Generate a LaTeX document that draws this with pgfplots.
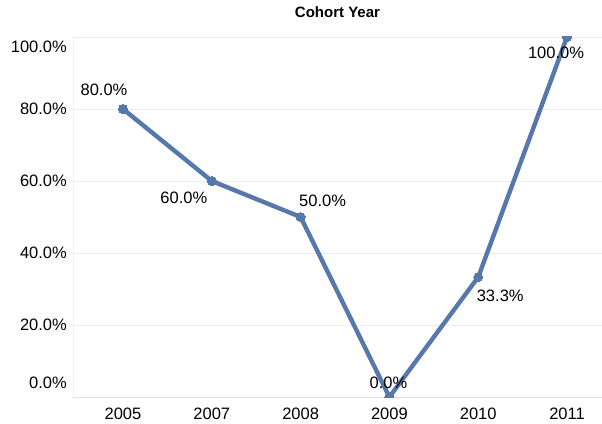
\documentclass[border=0pt]{standalone}
\usepackage{pgfplots}
\pgfplotsset{compat=1.18}
\usepackage{pgfplotstable}
\usepackage{fontspec}
\setmainfont{Liberation Sans}
\usetikzlibrary{calc}
\definecolor{lineblue}{HTML}{5778AA}
\pgfplotstableread{
x y dx dy
0 80 -19 19
1 60 -28 -17
2 50 22 16
3 0 -1 14
4 33.3 22 -19
5 100 -11 -16
}\datatable
\begin{document}
\begin{tikzpicture}
\begin{axis}[name=ax, scale only axis, width=529pt, height=360pt,
 xmin=-0.563, xmax=5.394, ymin=0, ymax=100,
 clip marker paths=true,
 xtick={0,...,5}, xticklabels={2005,2007,2008,2009,2010,2011},
 major x tick style={draw=none},
 extra x ticks={-0.5,0.5,1.5,2.5,3.5,4.5}, extra x tick labels={},
 extra x tick style={grid=none, major tick length=6pt, tick align=outside, tick style={draw=black!15, line width=0.6pt}},
 ytick={0,20,...,100},
 yticklabel={\pgfmathprintnumber[fixed,fixed zerofill,precision=1]{\tick}\%\ifnum\ticknum=0 \rule[-28pt]{0pt}{28pt}\else\ifnum\ticknum=5 \rule{0pt}{31pt}\fi\fi},
 y tick label style={anchor=east, inner sep=0pt, xshift=-6pt},
 x tick label style={anchor=north, inner sep=0pt, yshift=-11pt},
 ytick style={draw=none},
 ymajorgrids, major grid style={black!7, line width=0.6pt},
 axis x line*=bottom, axis y line*=left,
 y axis line style={black!6, line width=0.6pt},
 x axis line style={black!12, line width=0.8pt},
 tick label style={font=\fontsize{16.5}{19}\selectfont},
 /pgf/number format/assume math mode=true,
 title={Cohort Year},
 title style={font=\fontsize{15}{18}\selectfont\bfseries, at={(0.5,1)}, anchor=south, yshift=10pt},
]
\addplot[lineblue, line width=4.4pt, mark=*, mark size=4.5pt,
 mark options={fill=lineblue, draw=lineblue, line width=0pt},
 point meta=y,
 nodes near coords={\pgfmathprintnumber[fixed,fixed zerofill,precision=1]{\pgfplotspointmeta}\%},
 visualization depends on={\thisrow{dx}\as\dx},
 visualization depends on={\thisrow{dy}\as\dy},
 every node near coord/.append style={anchor=center, xshift=\dx pt, yshift=\dy pt, text=black, font=\fontsize{16.5}{19}\selectfont}
] table[x=x,y=y] {\datatable};
\end{axis}
\pgfresetboundingbox
\path[use as bounding box] ($(ax.south west)+(-73pt,-26pt)$) rectangle ($(ax.north east)+(0pt,37pt)$);
\end{tikzpicture}
\end{document}
